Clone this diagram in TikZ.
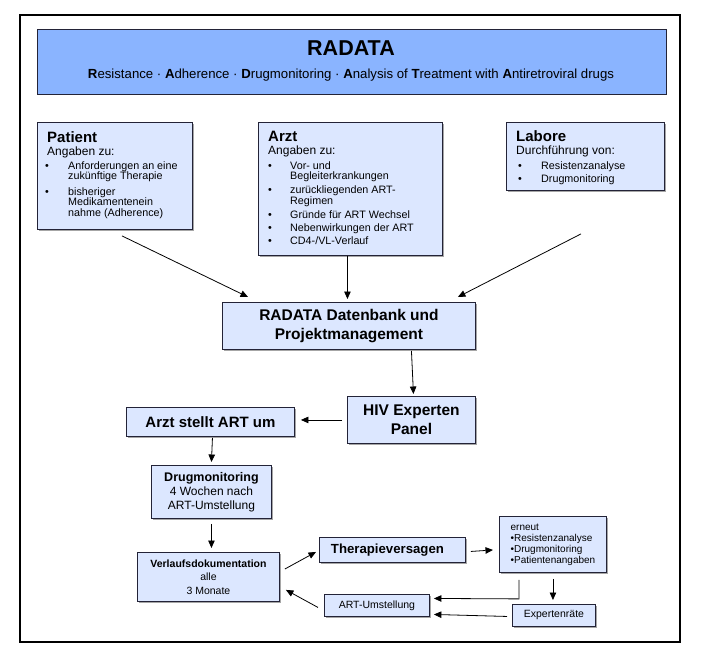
\documentclass[tikz,border=0pt]{standalone}
\usepackage{fontspec}
\setmainfont{Liberation Sans}
\usetikzlibrary{arrows.meta,shadows}
\definecolor{titleblue}{RGB}{138,180,255}
\definecolor{boxblue}{RGB}{220,231,255}
\definecolor{boxline}{RGB}{35,35,55}
\begin{document}
\begin{tikzpicture}[x=1pt,y=-1pt,
  box/.style={draw=boxline, fill=boxblue, line width=0.9pt, rectangle, inner sep=0pt, anchor=north west,
    drop shadow={shadow xshift=1.2pt, shadow yshift=-1.2pt, fill=black!35, opacity=1}},
  arr/.style={-{Triangle[length=7.5pt,width=6.5pt]}, line width=0.8pt},
  txt/.style={anchor=base west, inner sep=0pt},
  head/.style={txt, font=\bfseries\fontsize{15}{17}\selectfont},
  sub/.style={txt, font=\fontsize{12}{14}\selectfont},
  body/.style={txt, font=\fontsize{10.75}{12}\selectfont},
  bigb/.style={font=\bfseries\fontsize{15.5}{18.6}\selectfont, align=center},
]
\useasboundingbox (0,0) rectangle (702,664);
% outer frame
\draw[line width=1.1pt] (20,15) rectangle (680,642);

% title
\node[draw=boxline, fill=titleblue, line width=1pt, inner sep=0pt, anchor=north west,
  minimum width=629pt, minimum height=65pt] (title) at (37,29) {};
\node[anchor=base, inner sep=0pt, font=\bfseries\fontsize{21.5}{24}\selectfont] (tt) at (351,55) {RADATA};
\node[anchor=base, inner sep=0pt, font=\fontsize{13.2}{15}\selectfont] (ts) at (351,78)
 {\textbf{R}esistance · \textbf{A}dherence · \textbf{D}rugmonitoring · \textbf{A}nalysis of \textbf{T}reatment with \textbf{A}ntiretroviral drugs};

% Patient
\node[box, minimum width=155pt, minimum height=107pt] (patient) at (37,122) {};
\node[head] (p0) at (47,142.5) {Patient};
\node[sub] (p1) at (47,155.5) {Angaben zu:};
\node[body] (pb1) at (45,169) {•};
\node[body] (p2) at (68,169) {Anforderungen an eine};
\node[body] (p3) at (68,179.5) {zukünftige Therapie};
\node[body] (pb2) at (45,195) {•};
\node[body] (p4) at (68,195) {bisheriger};
\node[body] (p5) at (68,205.7) {Medikamentenein};
\node[body] (p6) at (68,216.5) {nahme (Adherence)};

% Arzt
\node[box, minimum width=184pt, minimum height=133pt] (arzt) at (258,122) {};
\node[head] (a0) at (268,141) {Arzt};
\node[sub] (a1) at (268,154.5) {Angaben zu:};
\node[body] (ab1) at (268,169) {•};
\node[body] (a2) at (290,169) {Vor- und};
\node[body] (a3) at (290,179.7) {Begleiterkrankungen};
\node[body] (ab2) at (268,193.5) {•};
\node[body] (a4) at (290,193.5) {zurückliegenden ART-};
\node[body] (a5) at (290,204.2) {Regimen};
\node[body] (ab3) at (268,218) {•};
\node[body] (a6) at (290,218) {Gründe für ART Wechsel};
\node[body] (ab4) at (268,231) {•};
\node[body] (a7) at (290,231) {Nebenwirkungen der ART};
\node[body] (ab5) at (268,244) {•};
\node[body] (a8) at (290,244) {CD4-/VL-Verlauf};

% Labore
\node[box, minimum width=158pt, minimum height=68pt] (labore) at (506,122) {};
\node[head] (l0) at (516,141.5) {Labore};
\node[sub] (l1) at (516,154.5) {Durchführung von:};
\node[body] (lb1) at (518,169) {•};
\node[body] (l2) at (541,169) {Resistenzanalyse};
\node[body] (lb2) at (518,182) {•};
\node[body] (l3) at (541,182) {Drugmonitoring};

% DB
\node[box, minimum width=253pt, minimum height=47pt, bigb] (db) at (222,302) {RADATA Datenbank und\\Projektmanagement};
% HIV
\node[box, minimum width=128pt, minimum height=47pt, bigb] (hiv) at (347,396) {HIV Experten\\Panel};
% Arzt stellt ART um
\node[box, minimum width=168pt, minimum height=29pt, font=\bfseries\fontsize{15}{17}\selectfont] (arztum) at (126,407) {Arzt stellt ART um};
% Drugmonitoring
\node[box, minimum width=120pt, minimum height=53pt, align=center, font=\fontsize{12}{13.8}\selectfont] (drug) at (151,465)
 {{\bfseries\fontsize{12.5}{13.8}\selectfont Drugmonitoring}\\4 Wochen nach\\ART-Umstellung};
% Verlauf
\node[box, minimum width=142pt, minimum height=49pt, align=center, font=\fontsize{10.5}{13.3}\selectfont] (verlauf) at (137,552)
 {{\bfseries Verlaufsdokumentation}\\alle\\3 Monate};
% Therapieversagen
\node[box, minimum width=146pt, minimum height=25pt, font=\bfseries\fontsize{13.2}{15}\selectfont] (therapie) at (319,537)
 {Therapieversagen\hspace*{10pt}};
% erneut
\node[box, minimum width=107pt, minimum height=56pt, align=left, font=\fontsize{10}{11.1}\selectfont] (erneut) at (499,516)
 {erneut\\•Resistenzanalyse\\•Drugmonitoring\\•Patientenangaben};
% ART-Umstellung
\node[box, minimum width=105pt, minimum height=22pt, font=\fontsize{10.5}{12}\selectfont] (artum) at (324,594) {ART-Umstellung};
% Expertenraete
\node[box, minimum width=83pt, minimum height=22pt, font=\fontsize{10.5}{12}\selectfont] (expert) at (512,604) {Expertenräte};

% arrows
\draw[arr] ([shift={(85,6)}]patient.south west) -- ([shift={(26,-5)}]db.north west);
\draw[arr] ([xshift=-3pt]arzt.south) -- ([xshift=-1.5pt,yshift=3pt]db.north);
\draw[arr] ([shift={(75,43)}]labore.south west) -- ([shift={(-18,-5)}]db.north east);
\draw[arr] ([yshift=-1pt]db.south -| hiv.north) -- ([xshift=2pt,yshift=2pt]hiv.north);
\draw[arr] ([xshift=-5pt]hiv.west) -- ([xshift=6pt]arztum.east |- hiv.west);
\draw[arr] ([xshift=2pt,yshift=-1pt]arztum.south) -- ([yshift=3pt]drug.north);
\draw[arr] ([yshift=-5pt]drug.south) -- ([yshift=4pt]drug.south |- verlauf.north);
\draw[arr] ([shift={(5,17)}]verlauf.north east) -- ([shift={(-3,2)}]therapie.west);
\draw[arr] ([xshift=5pt,yshift=-1.5pt]therapie.east) -- ([xshift=-6pt]therapie.east -| erneut.west);
\draw[arr] ([shift={(0,6)}]erneut.south) -- ([yshift=4pt]erneut.south |- expert.north);
\draw[arr] ([shift={(20,7)}]erneut.south west) -- ([shift={(20,26)}]erneut.south west) -- ([xshift=4pt,yshift=7pt]artum.east);
\draw[arr] ([xshift=-5pt,yshift=-1pt]expert.west) -- ([xshift=4pt,yshift=-9pt]artum.east);
\draw[arr] ([shift={(-6,2)}]artum.west) -- ([shift={(6,-12)}]verlauf.south east);
\end{tikzpicture}
\end{document}
